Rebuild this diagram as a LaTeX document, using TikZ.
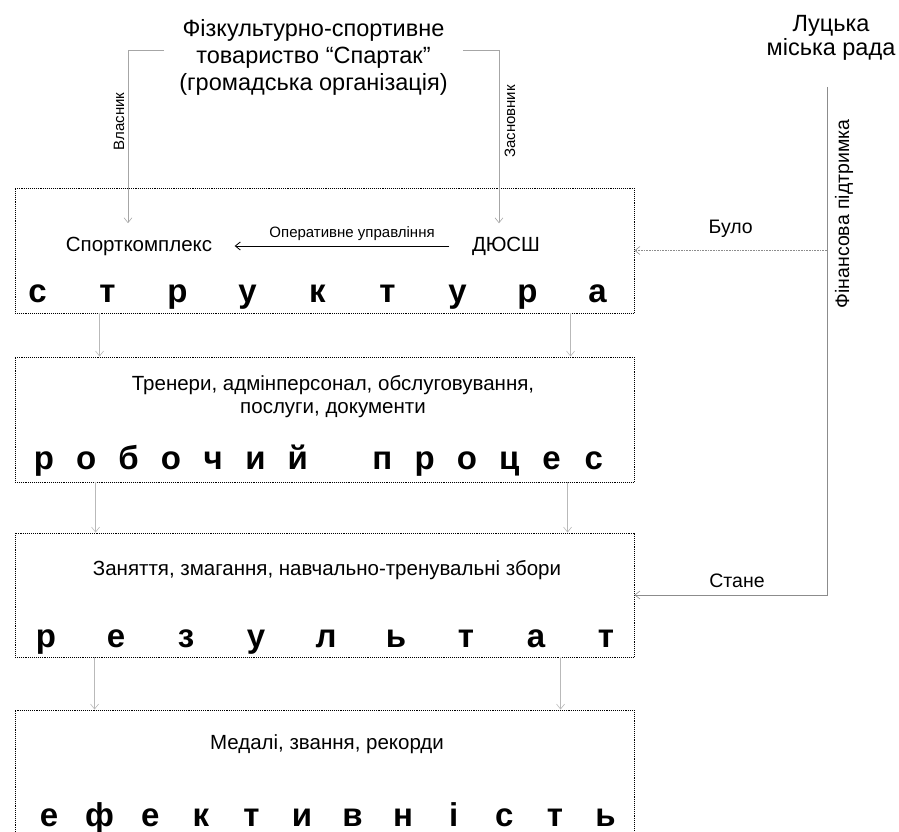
\documentclass[tikz,border=0pt]{standalone}
\usepackage{fontspec}
\setmainfont{Liberation Sans}
\usetikzlibrary{arrows.meta}

\tikzset{
  stage/.style={draw, densely dotted, line width=0.9pt, minimum width=619pt, inner sep=0pt},
  flow/.style={draw=gray!55, line width=0.6pt, -{Straight Barb[length=5pt,width=8pt]}},
  bigletter/.style={font=\bfseries\fontsize{33}{33}\selectfont, anchor=base},
  boxtext/.style={font=\fontsize{20.5}{23}\selectfont, align=center},
  tag/.style={font=\fontsize{19.5}{22}\selectfont},
  small/.style={font=\fontsize{15}{17}\selectfont}
}

\begin{document}
\begin{tikzpicture}[x=1pt,y=-1pt]
  \useasboundingbox (0,0) rectangle (899,832);
  % title and city council
  \node[font=\fontsize{23.5}{27}\selectfont, align=center, inner xsep=15pt] (t) at (313.5,57)
    {Фізкультурно-спортивне\\товариство “Спартак”\\(громадська організація)};
  \node[font=\fontsize{23.5}{23.5}\selectfont, align=center] (rada) at (831,38) {Луцька\\міська рада};
  \coordinate (fin) at (827,87);

  % stages
  \node[stage, minimum height=125pt] (b1) at (324.5,250.5) {};
  \node[stage, minimum height=125pt] (b2) at (324.5,419.5) {};
  \node[stage, minimum height=124pt] (b3) at (324.5,595) {};
  \node[stage, minimum height=140pt] (b4) at (324.5,780) {};

  \node[boxtext] (sk) at (139,246) {Спорткомплекс};
  \node[boxtext] (dy) at (506,246) {ДЮСШ};
  \node[boxtext] (work) at (333,397) {Тренери, адмінперсонал, обслуговування,\\послуги, документи};
  \node[boxtext] (res) at (327,570) {Заняття, змагання, навчально-тренувальні збори};
  \node[boxtext] (eff) at (327,744) {Медалі, звання, рекорди};

  \foreach \ch [count=\i from 0] in {с,т,р,у,к,т,у,р,а}
    \node[bigletter] (s\i) at (37.5+\i*70,302) {\ch};
  \foreach \ch [count=\i from 0] in {р,о,б,о,ч,и,й}
    \node[bigletter] (p\i) at (44+\i*42.3,469) {\ch};
  \foreach \ch [count=\i from 8] in {п,р,о,ц,е,с}
    \node[bigletter] (p\i) at (44+\i*42.3,469) {\ch};
  \foreach \ch [count=\i from 0] in {р,е,з,у,л,ь,т,а,т}
    \node[bigletter] (r\i) at (46+\i*70,647) {\ch};
  \foreach \ch [count=\i from 0] in {е,ф,е,к,т,и,в,н,і,с,т,ь}
    \node[bigletter] (e\i) at (49+\i*50.6,826) {\ch};

  % connectors
  \draw[flow, draw=gray!70, shorten >=10pt] ([yshift=7pt]t.west) -| ([xshift=-11pt]sk.north)
    node[pos=0.695, small, rotate=90, above] {Власник};
  \draw[flow, draw=gray!70, shorten >=10pt] ([yshift=7pt]t.east) -| ([xshift=-7pt]dy.north)
    node[pos=0.695, small, rotate=90, below=2pt] {Засновник};
  \draw[line width=0.8pt, -{Straight Barb[length=5pt,width=8pt]}, shorten >=19pt, shorten <=19pt]
    (dy) -- (sk) node[midway, above=2pt, xshift=10pt, small] {Оперативне управління};

  \draw[flow] ([xshift=85pt]b1.south west) -- ([xshift=85pt]b2.north west);
  \draw[flow] ([xshift=556pt]b1.south west) -- ([xshift=556pt]b2.north west);
  \draw[flow] ([xshift=81pt]b2.south west) -- ([xshift=81pt]b3.north west);
  \draw[flow] ([xshift=553pt]b2.south west) -- ([xshift=553pt]b3.north west);
  \draw[flow] ([xshift=80pt]b3.south west) -- ([xshift=80pt]b4.north west);
  \draw[flow] ([xshift=546pt]b3.south west) -- ([xshift=546pt]b4.north west);

  \draw[flow, draw=gray!90] (fin) |- (b3.east);
  \node[tag, rotate=90] (ftext) at (844,214) {Фінансова підтримка};
  \node[tag] (stane) at (737,581) {Стане};
  \draw[flow, densely dotted, draw=gray!90] (b1.east -| fin) -- (b1.east)
    node[midway, above=9pt, tag] (bulo) {Було};
\end{tikzpicture}
\end{document}
